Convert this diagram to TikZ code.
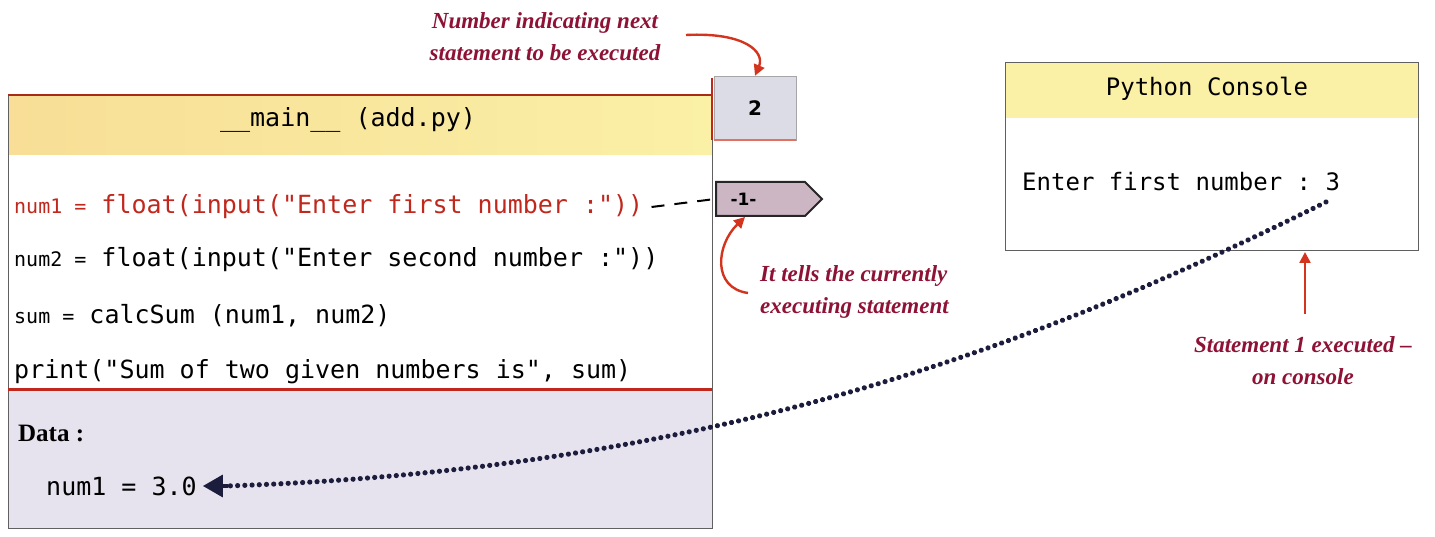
\documentclass[tikz,border=0pt]{standalone}
\usepackage{fontspec}
\setmainfont{Liberation Serif}
\setmonofont{DejaVu Sans Mono}
\setsansfont{DejaVu Sans}
\usetikzlibrary{arrows.meta,shapes.symbols,decorations.markings}
\definecolor{hdr}{HTML}{FAF0A6}
\definecolor{hdrL}{HTML}{F8DE96}
\definecolor{lav}{HTML}{E6E3EF}
\definecolor{codered}{HTML}{C0281E}
\definecolor{annot}{HTML}{8E1236}
\definecolor{arrred}{HTML}{D4341E}
\definecolor{navy}{HTML}{1C1C3C}
\definecolor{tagfill}{HTML}{CDB6C4}
\definecolor{numfill}{HTML}{DCDCE6}
\tikzset{
  code/.style={anchor=west, inner sep=0pt, font=\ttfamily\fontsize{25}{29}\selectfont},
  note/.style={font=\bfseries\itshape\fontsize{23}{32}\selectfont, text=annot, inner sep=0pt},
  redarrow/.style={draw=arrred, line width=2.4pt, -{Triangle[length=11pt,width=11pt]}},
  frame/.style={draw=gray!75!black, line width=0.8pt},
  dotline/.style={decoration={markings, mark=between positions 0 and 1 step 7.2pt with {\fill[navy] (0,0) circle (2.6pt);}}, decorate},
}
\newcommand{\sv}[1]{{\fontsize{20}{24}\selectfont #1}}
\begin{document}
\begin{tikzpicture}[x=1pt,y=-1pt]
\useasboundingbox (0,0) rectangle (1435,537);
% main box
\fill[left color=hdrL, right color=hdr] (8,95) rectangle (712,155);
\fill[lav] (8,390) rectangle (712,528);
\draw[frame] (8,95) rectangle (712,528);
\draw[draw=arrred!80!black, line width=1.2pt] (8,95) -- (712,95);
\draw[codered, line width=3pt] (8,389) -- (712,389);
\node[font=\ttfamily\fontsize{25}{29}\selectfont] (title) at (348,120) {\_\_main\_\_ (add.py)};
\node[code, text=codered] (l1) at (14,207) {\sv{num1 =} float(input("Enter first number :"))};
\node[code] (l2) at (14,260) {\sv{num2 =} float(input("Enter second number :"))};
\node[code] (l3) at (14,316) {\sv{sum =} calcSum (num1, num2)};
\node[code] (l4) at (14,372) {print("Sum of two given numbers is", sum)};
\node[anchor=west, inner sep=0pt, font=\bfseries\fontsize{25}{29}\selectfont] (data) at (18,433) {Data :};
\node[code] (num1) at (46,486) {num1 = 3.0};
% next statement box
\node[draw=gray!70, fill=numfill, minimum width=82pt, minimum height=64pt, inner sep=0pt,
      font=\sffamily\bfseries\fontsize{20}{24}\selectfont] (nxt) at (755,108) {2};
\draw[arrred!70, line width=2pt] (714,140) -- (796,140);
\draw[codered, line width=1.5pt] (712,78) -- (712,140);
% current statement tag
\node[signal, signal to=east, draw=black!85, line width=2pt, fill=tagfill, minimum width=106pt,
      minimum height=34pt, inner sep=0pt, font=\sffamily\bfseries\fontsize{17}{20}\selectfont,
      anchor=west] (tag) at (715,199) {\hspace*{-34pt}-1-};
\draw[line width=2pt, dash pattern=on 13pt off 10pt] ([xshift=8pt]l1.east) -- (tag.west);
% python console
\fill[hdr] (1005,62) rectangle (1418,118);
\draw[frame] (1005,62) rectangle (1418,250);
\node[font=\ttfamily\fontsize{24}{28}\selectfont] (pc) at (1207,89) {Python Console};
\node[code, font=\ttfamily\fontsize{24}{28}\selectfont] (out) at (1022,182) {Enter first number : 3};
\coordinate (cbot) at (1305,252);
% annotations
\node[note, align=center] (n1) at (545,37) {Number indicating next\\statement to be executed};
\node[note, align=left, anchor=west] (n2) at (760,292) {It tells the currently\\executing statement};
\node[note, align=center] (n3) at (1303,361) {Statement 1 executed --\\on console};
% red arrows
\draw[redarrow] (686,35) .. controls (745,32) and (765,52) .. (nxt.north);
\draw[redarrow] (748,293) .. controls (712,288) and (716,245) .. ([xshift=30pt]tag.south west);
\draw[redarrow] (1305,314) -- (cbot);
% dotted connector
\coordinate (dstart2) at (1326,202);
\path[dotline] (dstart2) .. controls (1050,340) and (720,470) .. (226,486);
\draw[navy, line width=3.5pt, -{Triangle[length=20pt,width=22pt]}] (228,486) -- ([xshift=6pt]num1.east);
\end{tikzpicture}
\end{document}
